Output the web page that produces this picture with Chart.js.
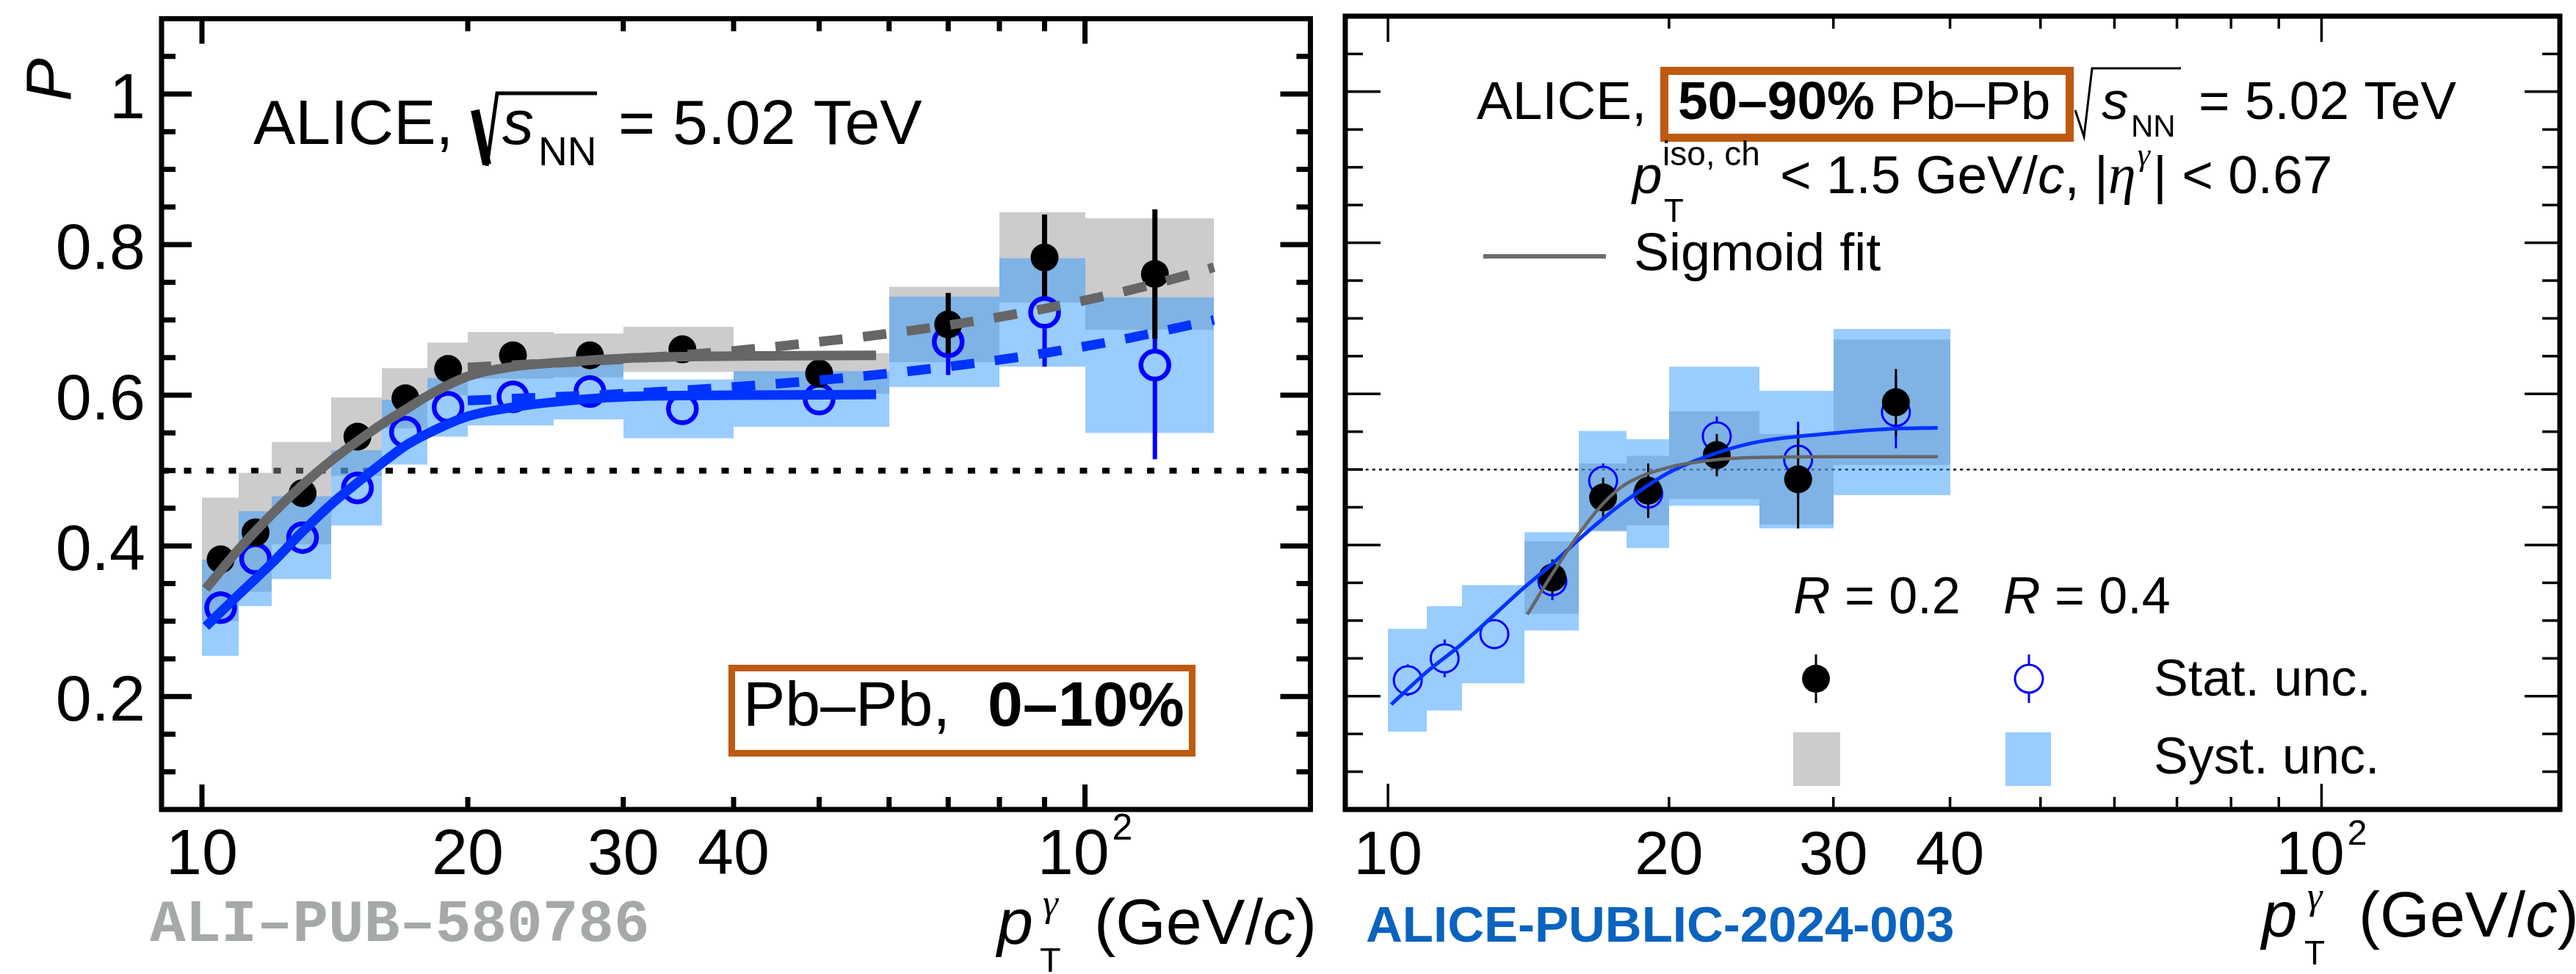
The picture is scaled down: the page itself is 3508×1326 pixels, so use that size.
<!DOCTYPE html>
<html>
<head>
<meta charset="utf-8">
<script src="https://cdn.jsdelivr.net/npm/chart.js@4.4.1/dist/chart.umd.min.js"></script>
<style>
  html, body { margin: 0; padding: 0; background: #fff; }
  body { width: 3508px; height: 1326px; position: relative; overflow: hidden; }
  canvas { position: absolute; top: 0; }
  #central { left: 0; }
  #peripheral { left: 1810px; }
</style>
</head>
<body>
<canvas id="central" width="1810" height="1326"></canvas>
<canvas id="peripheral" width="1698" height="1326"></canvas>
<script>
// pT bins (GeV/c), 0-10 % measurement
const binLow    = [10, 11, 12, 14, 16, 18, 20, 25, 30, 40, 60, 80, 100];
const binHigh   = [11, 12, 14, 16, 18, 20, 25, 30, 40, 60, 80, 100, 140];
const binCenter = [10.5, 11.5, 13, 15, 17, 19, 22.5, 27.5, 35, 50, 70, 90, 120];

// purity, 0-10 %, R = 0.2 (full markers) and R = 0.4 (open markers)
const centR02     = [0.382, 0.418, 0.470, 0.545, 0.596, 0.635, 0.653, 0.653, 0.661, 0.629, 0.694, 0.783, 0.761];
const centR02Stat = [0.010, 0.010, 0.010, 0.010, 0.010, 0.010, 0.010, 0.010, 0.012, 0.015, 0.042, 0.057, 0.086];
const centR02Syst = [0.082, 0.079, 0.068, 0.052, 0.040, 0.035, 0.031, 0.029, 0.030, 0.027, 0.050, 0.060, 0.074];
const centR04     = [0.318, 0.383, 0.411, 0.477, 0.551, 0.584, 0.598, 0.605, 0.582, 0.595, 0.671, 0.710, 0.640];
const centR04Stat = [0.010, 0.010, 0.010, 0.010, 0.010, 0.010, 0.010, 0.010, 0.012, 0.020, 0.044, 0.072, 0.125];
const centR04Syst = [0.064, 0.063, 0.055, 0.050, 0.043, 0.039, 0.038, 0.037, 0.039, 0.037, 0.060, 0.072, 0.090];

// sigmoid fits, 0-10 %
const centFitPt  = [10.1, 11, 12, 13, 14, 15, 16, 17, 18, 20, 22.5, 25, 30, 40, 58];
const centFitR02 = [0.343, 0.395, 0.442, 0.481, 0.513, 0.539, 0.562, 0.581, 0.599, 0.625, 0.638, 0.643, 0.649, 0.652, 0.653];
const centFitR04 = [0.293, 0.335, 0.377, 0.419, 0.455, 0.484, 0.510, 0.533, 0.549, 0.572, 0.584, 0.591, 0.598, 0.600, 0.601];

// linear extrapolation to high pT, 0-10 %
const centLinPt  = [20, 30, 40, 50, 60, 70, 80, 90, 100, 110, 120, 130, 140];
const centLinR02 = [0.637, 0.648, 0.659, 0.671, 0.682, 0.693, 0.704, 0.715, 0.726, 0.737, 0.748, 0.759, 0.770];
const centLinR04 = [0.593, 0.602, 0.611, 0.620, 0.629, 0.638, 0.647, 0.656, 0.665, 0.674, 0.683, 0.692, 0.700];

// 50-90 %, R = 0.4
const periLow     = [10, 11, 12, 14, 16, 18, 20, 25, 30];
const periHigh    = [11, 12, 14, 16, 18, 20, 25, 30, 40];
const periPt      = [10.5, 11.5, 13, 15, 17, 19, 22.5, 27.5, 35];
const periR04     = [0.221, 0.250, 0.282, 0.352, 0.485, 0.468, 0.544, 0.513, 0.576];
const periR04Stat = [0.021, 0.025, 0.020, 0.025, 0.023, 0.030, 0.026, 0.050, 0.048];
const periR04Syst = [0.068, 0.069, 0.065, 0.065, 0.066, 0.072, 0.092, 0.091, 0.110];

// 50-90 %, R = 0.2
const periR02Low  = [14, 16, 18, 20, 25, 30];
const periR02High = [16, 18, 20, 25, 30, 40];
const periR02Pt   = [15, 17, 19, 22.5, 27.5, 35];
const periR02     = [0.357, 0.463, 0.472, 0.519, 0.487, 0.589];
const periR02Stat = [0.024, 0.026, 0.036, 0.028, 0.065, 0.044];
const periR02Syst = [0.048, 0.045, 0.046, 0.058, 0.060, 0.083];

// sigmoid fits, 50-90 %
const periFitR04Pt = [10.08, 11, 12, 14, 15, 16, 17, 18, 20, 22.5, 25, 30, 35, 38.8];
const periFitR04   = [0.189, 0.232, 0.269, 0.344, 0.375, 0.407, 0.435, 0.459, 0.496, 0.522, 0.537, 0.548, 0.554, 0.555];
const periFitR02Pt = [14.1, 15, 16, 17, 18, 20, 22.5, 25, 30, 38.8];
const periFitR02   = [0.308, 0.362, 0.414, 0.455, 0.481, 0.503, 0.513, 0.516, 0.517, 0.517];

// axis ticks
const xTickVals   = [10, 20, 30, 40, 50, 60, 70, 80, 90, 100];
const xLabelVals  = [10, 20, 30, 40];
const yLabelVals  = [0.2, 0.4, 0.6, 0.8, 1];
const yLabelText  = ['0.2', '0.4', '0.6', '0.8', '1'];

const SANS  = '"Liberation Sans", Arial, Helvetica, sans-serif';
const SERIF = '"Liberation Serif", "Times New Roman", serif';
const MONO  = '"Liberation Mono", "Courier New", monospace';

const GRAY_SYST = 'rgba(146,146,146,0.47)';
const BLUE_SYST = 'rgba(47,151,255,0.49)';
const ORANGE = 'rgb(190,90,15)';

function pts(xs, ys) {
  return xs.map((x, i) => ({ x: x, y: ys[i] }));
}

// draw a sequence of text pieces, each with its own font and vertical shift
function runs(ctx, x, y, pieces) {
  ctx.textAlign = 'left';
  ctx.textBaseline = 'alphabetic';
  pieces.forEach(p => {
    ctx.font = p[1];
    ctx.fillStyle = p[3] || '#000';
    ctx.fillText(p[0], x, y + (p[2] || 0));
    x += ctx.measureText(p[0]).width;
  });
  return x;
}

function line(ctx, x0, y0, x1, y1) {
  ctx.beginPath();
  ctx.moveTo(x0, y0);
  ctx.lineTo(x1, y1);
  ctx.stroke();
}

function drawBoxes(chart, lo, hi, vals, errs, fill) {
  const ctx = chart.ctx, xs = chart.scales.x, ys = chart.scales.y;
  ctx.fillStyle = fill;
  vals.forEach((v, i) => {
    const x0 = Math.round(xs.getPixelForValue(lo[i]));
    const x1 = Math.round(xs.getPixelForValue(hi[i]));
    const y0 = ys.getPixelForValue(v + errs[i]);
    const y1 = ys.getPixelForValue(v - errs[i]);
    ctx.fillRect(x0, y0, x1 - x0, y1 - y0);
  });
}

// vertical stat. error bars, left out inside the marker like ROOT does
function drawErrors(chart, xv, vals, errs, color, width, r) {
  const ctx = chart.ctx, xs = chart.scales.x, ys = chart.scales.y;
  ctx.strokeStyle = color;
  ctx.lineWidth = width;
  vals.forEach((v, i) => {
    const x = xs.getPixelForValue(xv[i]);
    const yc = ys.getPixelForValue(v);
    const yt = ys.getPixelForValue(v + errs[i]);
    const yb = ys.getPixelForValue(v - errs[i]);
    if (yc - yt > r) line(ctx, x, yt, x, yc - r);
    if (yb - yc > r) line(ctx, x, yc + r, x, yb);
  });
}

function drawFrameAndTicks(chart, lw, yMajor, yMinor, xMajor, xMinor, tickW) {
  const ctx = chart.ctx, ca = chart.chartArea, xs = chart.scales.x, ys = chart.scales.y;
  ctx.strokeStyle = '#000';
  ctx.lineWidth = tickW;
  for (let k = 2; k <= 21; k++) {
    const v = k * 0.05;
    const y = ys.getPixelForValue(v);
    const len = (k % 4 === 0) ? yMajor : yMinor;
    line(ctx, ca.left, y, ca.left + len, y);
    line(ctx, ca.right, y, ca.right - len, y);
  }
  xTickVals.forEach(v => {
    const x = xs.getPixelForValue(v);
    const len = (v === 10 || v === 100) ? xMajor : xMinor;
    line(ctx, x, ca.bottom, x, ca.bottom - len);
    line(ctx, x, ca.top, x, ca.top + len);
  });
  ctx.lineWidth = lw;
  ctx.strokeRect(ca.left, ca.top, ca.right - ca.left, ca.bottom - ca.top);
}

function drawXLabels(chart, size, baseline, supBase) {
  const ctx = chart.ctx, xs = chart.scales.x;
  ctx.fillStyle = '#000';
  ctx.textBaseline = 'alphabetic';
  ctx.font = size + 'px ' + SANS;
  ctx.textAlign = 'center';
  xLabelVals.forEach(v => ctx.fillText(String(v), xs.getPixelForValue(v), baseline));
  // 10^2
  const x100 = xs.getPixelForValue(100);
  const w10 = ctx.measureText('10').width;
  ctx.font = Math.round(size * 0.57) + 'px ' + SANS;
  const w2 = ctx.measureText('2').width;
  const start = x100 - (w10 + w2 + 4) / 2;
  runs(ctx, start, baseline, [['10', size + 'px ' + SANS]]);
  runs(ctx, start + w10 + 4, supBase, [['2', Math.round(size * 0.57) + 'px ' + SANS]]);
}

function drawXTitle(ctx, x, base, size) {
  const f = size + 'px ' + SANS;
  runs(ctx, x, base, [['p', 'italic ' + f]]);
  runs(ctx, x + 62, base - 38, [['\u03b3', 'italic ' + Math.round(size * 0.6) + 'px ' + SERIF]]);
  runs(ctx, x + 58, base + 38, [['T', Math.round(size * 0.53) + 'px ' + SANS]]);
  runs(ctx, x + 132, base, [['(GeV/', f], ['c', 'italic ' + f], [')', f]]);
}

function makeChart(id, padding, datasets, decor) {
  return new Chart(document.getElementById(id), {
    type: 'scatter',
    data: { datasets: datasets },
    options: {
      responsive: false,
      animation: false,
      devicePixelRatio: 1,
      events: [],
      layout: { padding: padding },
      scales: {
        x: { type: 'logarithmic', min: 9, max: 180, display: false },
        y: { type: 'linear', min: 0.05, max: 1.1, display: false }
      },
      plugins: { legend: { display: false }, tooltip: { enabled: false } }
    },
    plugins: [decor]
  });
}

function fitLine(xs, ys, color, width, dash, order) {
  return {
    data: pts(xs, ys), showLine: true, borderColor: color, borderWidth: width,
    borderDash: dash || [], borderCapStyle: 'butt', pointRadius: 0, pointHoverRadius: 0,
    cubicInterpolationMode: 'monotone', order: order
  };
}

// ---------------------------
// 0-10 % panel
// ---------------------------
makeChart('central', { left: 220, right: 13, top: 22, bottom: 224 }, [
  fitLine(centLinPt, centLinR02, '#666666', 13, [32, 28], 0),
  fitLine(centLinPt, centLinR04, '#0033ff', 13, [32, 28], 0),
  fitLine(centFitPt, centFitR02, '#666666', 13, null, 1),
  fitLine(centFitPt, centFitR04, '#0033ff', 13, null, 1),
  { data: pts(binCenter, centR02), pointRadius: 19, pointBackgroundColor: '#000',
    pointBorderWidth: 0, order: 2 },
  { data: pts(binCenter, centR04), pointRadius: 19, pointBackgroundColor: 'rgba(0,0,0,0)',
    pointBorderColor: '#0000ff', pointBorderWidth: 6.5, order: 3 }
], {
  id: 'centralDecor',
  beforeDatasetsDraw(chart) {
    const ctx = chart.ctx, ca = chart.chartArea, ys = chart.scales.y;
    ctx.save();
    ctx.beginPath();
    ctx.rect(ca.left, ca.top, ca.right - ca.left, ca.bottom - ca.top);
    ctx.clip();
    // P = 0.5 reference
    ctx.strokeStyle = '#000';
    ctx.lineWidth = 8;
    ctx.setLineDash([10, 20.5]);
    line(ctx, ca.left, ys.getPixelForValue(0.5), ca.right, ys.getPixelForValue(0.5));
    ctx.setLineDash([]);
    drawBoxes(chart, binLow, binHigh, centR02, centR02Syst, GRAY_SYST);
    drawBoxes(chart, binLow, binHigh, centR04, centR04Syst, BLUE_SYST);
    drawErrors(chart, binCenter, centR04, centR04Stat, '#0000ff', 6, 22);
    drawErrors(chart, binCenter, centR02, centR02Stat, '#000', 7, 18);
    ctx.restore();
  },
  afterDraw(chart) {
    const ctx = chart.ctx, ys = chart.scales.y;
    ctx.save();
    drawFrameAndTicks(chart, 7, 41, 19, 34, 17, 7);

    // y labels
    ctx.font = '88px ' + SANS;
    ctx.fillStyle = '#000';
    ctx.textAlign = 'right';
    ctx.textBaseline = 'alphabetic';
    yLabelVals.forEach((v, i) => ctx.fillText(yLabelText[i], 198, ys.getPixelForValue(v) + 33));
    drawXLabels(chart, 88, 1190, 1143);

    // y title
    ctx.save();
    ctx.translate(96, 138);
    ctx.rotate(-Math.PI / 2);
    runs(ctx, 0, 0, [['P', 'italic 88px ' + SANS]]);
    ctx.restore();

    drawXTitle(ctx, 1358, 1285, 88);

    // ALICE, sqrt(s_NN) = 5.02 TeV
    runs(ctx, 345, 196, [['ALICE,', '86px ' + SANS]]);
    ctx.strokeStyle = '#000';
    ctx.lineWidth = 12;
    line(ctx, 647, 150, 663, 224);
    ctx.lineWidth = 5;
    ctx.beginPath();
    ctx.moveTo(663, 226);
    ctx.lineTo(677, 127);
    ctx.lineTo(813, 127);
    ctx.stroke();
    runs(ctx, 684, 196, [['s', 'italic 86px ' + SANS]]);
    runs(ctx, 733, 225, [['NN', '55px ' + SANS]]);
    runs(ctx, 842, 196, [['= 5.02 TeV', '86px ' + SANS]]);

    // centrality box
    ctx.strokeStyle = ORANGE;
    ctx.lineWidth = 9;
    ctx.strokeRect(996.5, 909.5, 627, 116);
    runs(ctx, 1012, 988, [['Pb\u2013Pb,', '86px ' + SANS]]);
    runs(ctx, 1345, 988, [['0\u201310%', 'bold 86px ' + SANS]]);

    runs(ctx, 204, 1281, [['ALI\u2013PUB\u2013580786', 'bold 81px ' + MONO, 0, '#a6a9a9']]);
    ctx.restore();
  }
});

// ---------------------------
// 50-90 % panel
// ---------------------------
makeChart('peripheral', { left: 17, right: 5, top: 21, bottom: 224 }, [
  fitLine(periFitR02Pt, periFitR02, '#666666', 4.5, null, 0),
  fitLine(periFitR04Pt, periFitR04, '#0033ff', 5, null, 0),
  { data: pts(periR02Pt, periR02), pointRadius: 19, pointBackgroundColor: '#000',
    pointBorderWidth: 0, order: 2 },
  { data: pts(periPt, periR04), pointRadius: 19, pointBackgroundColor: 'rgba(0,0,0,0)',
    pointBorderColor: '#0000ff', pointBorderWidth: 3, order: 3 }
], {
  id: 'peripheralDecor',
  beforeDatasetsDraw(chart) {
    const ctx = chart.ctx, ca = chart.chartArea, ys = chart.scales.y;
    ctx.save();
    ctx.beginPath();
    ctx.rect(ca.left, ca.top, ca.right - ca.left, ca.bottom - ca.top);
    ctx.clip();
    ctx.strokeStyle = '#000';
    ctx.lineWidth = 2.5;
    ctx.setLineDash([4, 5.2]);
    line(ctx, ca.left, ys.getPixelForValue(0.5), ca.right, ys.getPixelForValue(0.5));
    ctx.setLineDash([]);
    drawBoxes(chart, periR02Low, periR02High, periR02, periR02Syst, GRAY_SYST);
    drawBoxes(chart, periLow, periHigh, periR04, periR04Syst, BLUE_SYST);
    drawErrors(chart, periPt, periR04, periR04Stat, '#0000ff', 3, 20);
    drawErrors(chart, periR02Pt, periR02, periR02Stat, '#000', 3, 18);
    ctx.restore();
  },
  afterDraw(chart) {
    const ctx = chart.ctx;
    const ox = 1810; // page offset of this canvas
    ctx.save();
    drawFrameAndTicks(chart, 7, 48, 24, 35, 17, 3.5);
    drawXLabels(chart, 84, 1190, 1150);
    drawXTitle(ctx, 3080 - ox, 1275, 87);

    // header line
    const f = '73px ' + SANS;
    runs(ctx, 2011 - ox, 162, [['ALICE,', f]]);
    ctx.strokeStyle = ORANGE;
    ctx.lineWidth = 11;
    ctx.strokeRect(2266.5 - ox, 96.5, 552, 91);
    const e = runs(ctx, 2285 - ox, 162, [['50\u201390%', 'bold ' + f]]);
    runs(ctx, e, 162, [[' Pb\u2013Pb', f]]);
    ctx.strokeStyle = '#000';
    ctx.lineWidth = 3;
    ctx.beginPath();
    ctx.moveTo(2826 - ox, 150);
    ctx.lineTo(2838 - ox, 186);
    ctx.lineTo(2849 - ox, 93);
    ctx.lineTo(2970 - ox, 93);
    ctx.stroke();
    runs(ctx, 2862 - ox, 162, [['s', 'italic ' + f]]);
    runs(ctx, 2902 - ox, 186, [['NN', '42px ' + SANS]]);
    runs(ctx, 2994 - ox, 162, [['= 5.02 TeV', f]]);

    // isolation and acceptance line
    runs(ctx, 2223 - ox, 263, [['p', 'italic ' + f]]);
    runs(ctx, 2264 - ox, 225, [['iso, ch', '46px ' + SANS]]);
    runs(ctx, 2266 - ox, 302, [['T', '44px ' + SANS]]);
    let x = runs(ctx, 2424 - ox, 263, [['< 1.5 GeV/', f], ['c', 'italic ' + f], [', |', f],
                                        ['\u03b7', 'italic 76px ' + SERIF]]);
    x = runs(ctx, x + 2, 225, [['\u03b3', 'italic 44px ' + SERIF]]);
    runs(ctx, x + 4, 263, [['| < 0.67', f]]);

    // fit legend
    ctx.strokeStyle = '#6e6e6e';
    ctx.lineWidth = 6;
    line(ctx, 2020 - ox, 349, 2187 - ox, 349);
    runs(ctx, 2225 - ox, 368, [['Sigmoid fit', '72px ' + SANS]]);

    // marker legend
    const lf = '70px ' + SANS;
    runs(ctx, 2442 - ox, 835, [['R', 'italic ' + lf], [' = 0.2', lf]]);
    runs(ctx, 2728 - ox, 835, [['R', 'italic ' + lf], [' = 0.4', lf]]);
    runs(ctx, 2933 - ox, 947, [['Stat. unc.', lf]]);
    runs(ctx, 2933 - ox, 1053, [['Syst. unc.', lf]]);
    ctx.strokeStyle = '#000';
    ctx.lineWidth = 3;
    line(ctx, 2473 - ox, 891, 2473 - ox, 957);
    ctx.fillStyle = '#000';
    ctx.beginPath();
    ctx.arc(2473 - ox, 924, 19, 0, Math.PI * 2);
    ctx.fill();
    ctx.strokeStyle = '#0000ff';
    line(ctx, 2763 - ox, 891, 2763 - ox, 904);
    line(ctx, 2763 - ox, 944, 2763 - ox, 957);
    ctx.beginPath();
    ctx.arc(2763 - ox, 924, 19, 0, Math.PI * 2);
    ctx.stroke();
    ctx.fillStyle = '#cccccc';
    ctx.fillRect(2442 - ox, 997, 64, 73);
    ctx.fillStyle = '#99ccff';
    ctx.fillRect(2731 - ox, 997, 62, 73);

    runs(ctx, 1860 - ox, 1282, [['ALICE-PUBLIC-2024-003', 'bold 69px ' + SANS, 0, '#0a63bf']]);
    ctx.restore();
  }
});
</script>
</body>
</html>
